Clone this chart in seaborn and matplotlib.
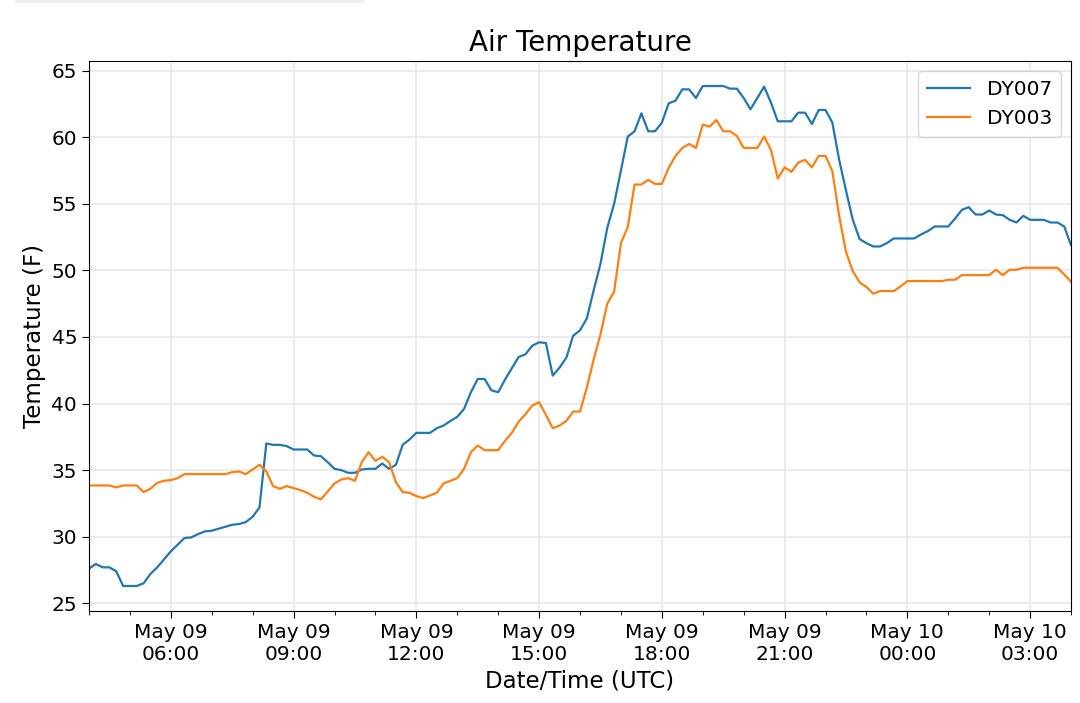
import numpy as np
import pandas as pd
import matplotlib
matplotlib.use("Agg")
import matplotlib.pyplot as plt
import matplotlib.dates as mdates
from matplotlib.patches import Rectangle
import seaborn as sns

# ---------------------------------------------------------------
# Data: 10-minute readings, May 09 04:00 UTC -> May 10 04:00 UTC
# ---------------------------------------------------------------
times = pd.date_range("2019-05-09 04:00", "2019-05-10 04:00", freq="10min")

dy007 = [
    27.6, 27.95, 27.7, 27.7, 27.4, 26.3, 26.3, 26.3, 26.5, 27.2,
    27.7, 28.3, 28.9, 29.4, 29.9, 29.95, 30.2, 30.4, 30.45, 30.6,
    30.75, 30.9, 30.95, 31.1, 31.5, 32.2, 37.0, 36.9, 36.9, 36.8,
    36.55, 36.55, 36.55, 36.1, 36.05, 35.6, 35.1, 35.0, 34.8, 34.8,
    35.05, 35.1, 35.1, 35.5, 35.1, 35.4, 36.9, 37.3, 37.8, 37.8,
    37.8, 38.15, 38.35, 38.7, 39.0, 39.6, 40.85, 41.85, 41.85, 41.0,
    40.85, 41.8, 42.65, 43.5, 43.7, 44.35, 44.6, 44.55, 42.1, 42.7,
    43.45, 45.1, 45.5, 46.4, 48.5, 50.5, 53.2, 55.0, 57.5, 60.05,
    60.45, 61.8, 60.45, 60.45, 61.1, 62.55, 62.75, 63.6, 63.6, 62.95,
    63.85, 63.85, 63.85, 63.85, 63.65, 63.65, 62.95, 62.1, 62.95, 63.8,
    62.6, 61.2, 61.2, 61.2, 61.85, 61.85, 61.0, 62.05, 62.05, 61.1,
    58.3, 56.0, 53.8, 52.35, 52.05, 51.8, 51.8, 52.05, 52.4, 52.4,
    52.4, 52.4, 52.7, 52.95, 53.3, 53.3, 53.3, 53.9, 54.55, 54.75,
    54.2, 54.2, 54.5, 54.2, 54.15, 53.8, 53.6, 54.1, 53.8, 53.8,
    53.8, 53.6, 53.6, 53.3, 51.9,
]

dy003 = [
    33.85, 33.85, 33.85, 33.85, 33.7, 33.85, 33.85, 33.85, 33.35, 33.6,
    34.05, 34.2, 34.25, 34.4, 34.7, 34.7, 34.7, 34.7, 34.7, 34.7,
    34.7, 34.85, 34.9, 34.7, 35.05, 35.4, 34.9, 33.8, 33.6, 33.8,
    33.65, 33.5, 33.3, 33.0, 32.8, 33.4, 34.0, 34.3, 34.4, 34.2,
    35.6, 36.35, 35.7, 36.0, 35.6, 34.1, 33.35, 33.3, 33.05, 32.9,
    33.1, 33.3, 34.0, 34.2, 34.4, 35.1, 36.35, 36.85, 36.5, 36.5,
    36.5, 37.2, 37.8, 38.65, 39.2, 39.85, 40.1, 39.15, 38.15, 38.35,
    38.7, 39.4, 39.4, 41.2, 43.3, 45.2, 47.5, 48.4, 52.05, 53.25,
    56.45, 56.45, 56.8, 56.5, 56.5, 57.7, 58.6, 59.2, 59.5, 59.2,
    60.95, 60.8, 61.3, 60.45, 60.45, 60.1, 59.2, 59.2, 59.2, 60.05,
    59.05, 56.9, 57.75, 57.4, 58.1, 58.3, 57.75, 58.6, 58.6, 57.45,
    54.1, 51.4, 49.95, 49.1, 48.75, 48.25, 48.45, 48.45, 48.45, 48.8,
    49.2, 49.2, 49.2, 49.2, 49.2, 49.2, 49.3, 49.3, 49.65, 49.65,
    49.65, 49.65, 49.65, 50.05, 49.65, 50.05, 50.05, 50.2, 50.2, 50.2,
    50.2, 50.2, 50.2, 49.7, 49.15,
]

stations = ["DY007", "DY003"]

# long-form table for seaborn
df = pd.concat([
    pd.DataFrame({"time": times, "temp": dy007, "station": "DY007"}),
    pd.DataFrame({"time": times, "temp": dy003, "station": "DY003"}),
], ignore_index=True)

plt.rcParams["axes.edgecolor"] = "black"

fig = plt.figure(figsize=(10.8, 7.03), dpi=100)
ax = fig.add_axes([0.0824, 0.1309, 0.9093, 0.7823])

sns.lineplot(data=df, x="time", y="temp", hue="station", hue_order=stations,
             palette=["#1f77b4", "#ff7f0e"], linewidth=1.6, ax=ax)

ax.set_xlim(times[0], times[-1])
ax.xaxis.set_major_locator(mdates.HourLocator(byhour=range(0, 24, 3)))
ax.xaxis.set_minor_locator(mdates.HourLocator())
ax.xaxis.set_major_formatter(mdates.DateFormatter("%b %d\n%H:%M"))
ax.set_yticks([25, 30, 35, 40, 45, 50, 55, 60, 65])

ax.tick_params(axis="both", which="major", labelsize=14.5, length=5,
               color="black", labelcolor="black")
ax.tick_params(axis="x", which="minor", length=3, color="black")
ax.grid(True, which="major", color="#e8e8e8", linewidth=1.2)
ax.set_axisbelow(True)

ax.set_title("Air Temperature", fontsize=20, pad=7)
ax.set_xlabel("Date/Time (UTC)", fontsize=16.5)
ax.set_ylabel("Temperature (F)", fontsize=16.5)

handles, labels = ax.get_legend_handles_labels()
ax.legend(handles, labels, loc="upper right", fontsize=14.5,
          handlelength=2.1, handletextpad=0.85, borderpad=0.45)

# faint bar left along the top edge of the source image
fig.add_artist(Rectangle((15 / 1080, 1 - 3 / 703), 350 / 1080, 3 / 703,
                         transform=fig.transFigure, color="#f0f0f0", lw=0))

fig.savefig("out.png", dpi=100)
